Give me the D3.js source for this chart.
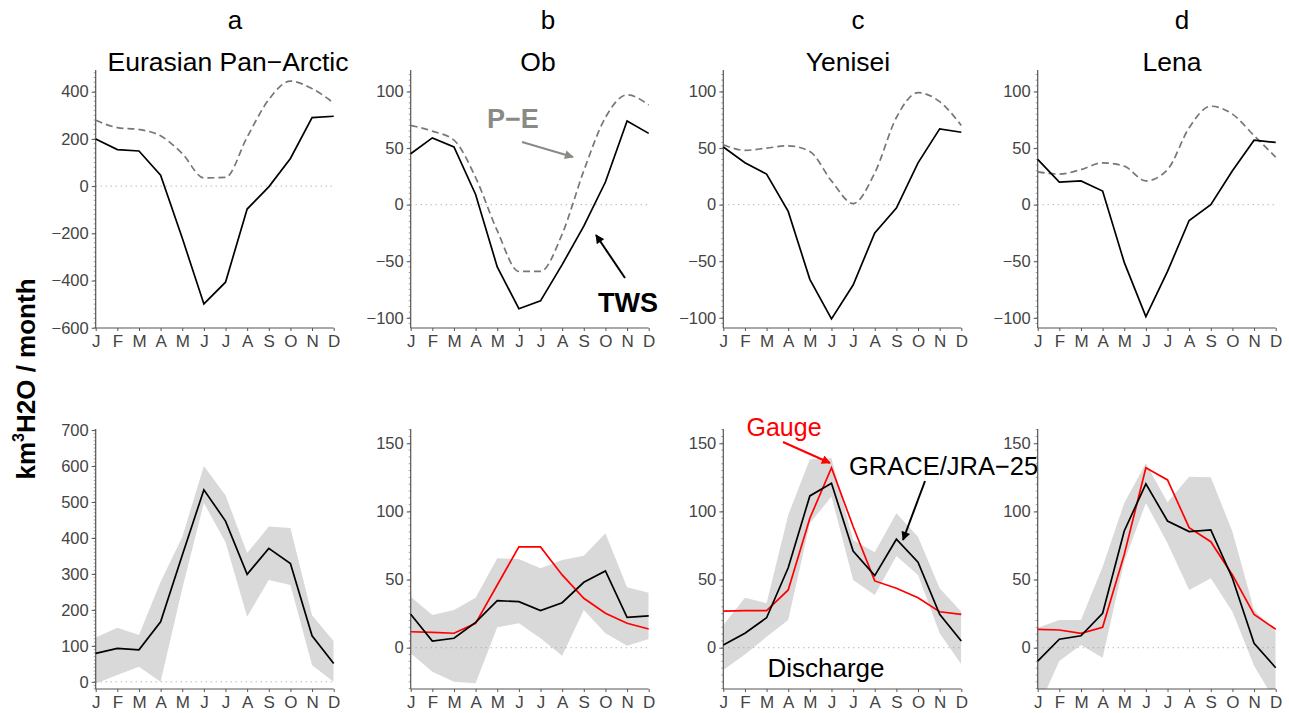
<!DOCTYPE html>
<html>
<head>
<meta charset="utf-8">
<script src="https://cdn.jsdelivr.net/npm/d3@7"></script>
<style>
  body { margin: 0; background: #fff; }
  svg { font-family: "Liberation Sans", Arial, Helvetica, sans-serif; }
</style>
</head>
<body>
<div id="chart"></div>
<script>
// Meses
const months = ['J', 'F', 'M', 'A', 'M', 'J', 'J', 'A', 'S', 'O', 'N', 'D'];
const panelLetters = ['a', 'b', 'c', 'd'];
const basinNames = ['Eurasian Pan\u2212Arctic', 'Ob', 'Yenisei', 'Lena'];

// Linha superior: TWS (preto) e P-E (tracejado)
const twsEur = [200, 155, 149, 46, -220, -499, -407, -97, -3, 117, 290, 296];
const peEur = [279, 248, 240, 213, 138, 35, 37, 208, 367, 445, 413, 352];
const twsOb = [45, 59, 51, 9, -55, -92, -85, -53, -19, 20, 74, 63];
const peOb = [70, 65, 57, 24, -23, -59, -59, -26, 30, 77, 97, 88];
const twsYen = [51, 37, 27, -6, -66, -101, -71, -25, -3, 37, 67, 64];
const peYen = [53, 48, 50, 52, 47, 21, 1, 28, 77, 99, 91, 70];
const twsLena = [40, 20, 21, 12, -51, -99, -59, -14, 0, 30, 57, 55];
const peLena = [29, 27, 31, 37, 34, 21, 31, 68, 87, 80, 61, 42];

// Linha inferior: descarga GRACE/JRA-25, faixa de incerteza e medição (Gauge)
const dischEur = [79, 93, 89, 167, 352, 534, 447, 299, 371, 329, 128, 51];
const bandHiEur = [123, 150, 130, 278, 403, 600, 519, 358, 432, 428, 185, 113];
const bandLoEur = [-5, 19, 42, 0, 259, 497, 388, 181, 283, 269, 46, 0];

const dischOb = [24.5, 4.9, 6.9, 18.6, 34.5, 33.8, 27.2, 33, 48, 56.3, 22.3, 23.3];
const gaugeOb = [11.7, 11.3, 10.6, 17.9, 46, 74, 74, 53.4, 36.3, 25.3, 17.9, 13.7];
const bandHiOb = [37.4, 24, 27.7, 36.7, 65.6, 65.1, 58.3, 64.4, 67.5, 84, 44.3, 40.4];
const bandLoOb = [-4.1, -17.6, -25, -26.1, 15, 17.9, 6.9, -5.9, 27.7, 10.6, 1.5, 6.4];

const dischYen = [2, 10.6, 22, 58.7, 111.4, 120.7, 71, 52.9, 79.6, 62.7, 24.5, 4.9];
const gaugeYen = [26.9, 27.2, 27.2, 42.4, 95, 132.1, 88.9, 49, 43.6, 36.7, 26.4, 24.5];
const bandHiYen = [16.7, 36.7, 32.6, 97.4, 138.3, 139, 79, 70, 98.7, 81.5, 43.6, 26.4];
const bandLoYen = [-16.4, -4.9, 8, 20.3, 91.3, 110.9, 49.7, 38.7, 67.3, 53.4, 10.6, -12.2];

const dischLena = [-9.8, 6.2, 8.8, 25.3, 85.7, 120.2, 93, 85.2, 86.4, 51, 3.2, -14.7];
const gaugeLena = [13.5, 13, 10.6, 15, 68.4, 132.1, 123.1, 88.1, 77.8, 53.4, 24.5, 13.5];
const bandHiLena = [14.7, 20.3, 20.3, 59.5, 106.2, 135.4, 106.7, 125.5, 125.1, 85.2, 27.7, 11.7];
const bandLoLena = [-45, -9.8, 2, -7.3, 63.2, 106.2, 76.7, 42.4, 51, 26.4, -13.2, -40];

// Ticks dos eixos
const topTicksEur = [-600, -400, -200, 0, 200, 400];
const topTicksBasin = [-100, -50, 0, 50, 100];
const botTicksEur = [0, 100, 200, 300, 400, 500, 600, 700];
const botTicksBasin = [0, 50, 100, 150];

const topPanels = [
  { tws: twsEur, pe: peEur, domain: [-601, 492], ticks: topTicksEur, minor: 20 },
  { tws: twsOb, pe: peOb, domain: [-109, 119], ticks: topTicksBasin, minor: 5 },
  { tws: twsYen, pe: peYen, domain: [-109, 119], ticks: topTicksBasin, minor: 5 },
  { tws: twsLena, pe: peLena, domain: [-109, 119], ticks: topTicksBasin, minor: 5 }
];
const bottomPanels = [
  { disch: dischEur, hi: bandHiEur, lo: bandLoEur, gauge: null, domain: [-20, 703], ticks: botTicksEur, minor: 10 },
  { disch: dischOb, hi: bandHiOb, lo: bandLoOb, gauge: gaugeOb, domain: [-30.3, 160.5], ticks: botTicksBasin, minor: 5 },
  { disch: dischYen, hi: bandHiYen, lo: bandLoYen, gauge: gaugeYen, domain: [-30.3, 160.5], ticks: botTicksBasin, minor: 5 },
  { disch: dischLena, hi: bandHiLena, lo: bandLoLena, gauge: gaugeLena, domain: [-30.3, 160.5], ticks: botTicksBasin, minor: 5 }
];

const W = 1289, H = 713;
const lefts = [95.7, 410.7, 723.3, 1037.7];
const plotW = 238;
const topRow = [70, 328];
const botRow = [429, 689];
const titleX = [228, 538, 848, 1172];
const axisColor = '#555';
const labelColor = '#444';

const svg = d3.select('#chart').append('svg')
  .attr('width', W)
  .attr('height', H);

const defs = svg.append('defs');
function addArrow(id, color) {
  defs.append('marker')
    .attr('id', id)
    .attr('viewBox', '0 0 10 10')
    .attr('refX', 9)
    .attr('refY', 5)
    .attr('markerWidth', 10)
    .attr('markerHeight', 9)
    .attr('markerUnits', 'userSpaceOnUse')
    .attr('orient', 'auto')
    .append('path')
    .attr('d', 'M0,0 L10,5 L0,10 z')
    .attr('fill', color);
}
addArrow('arrow-gray', '#8a8a84');
addArrow('arrow-black', '#000');
addArrow('arrow-red', '#ff0000');

// Desenhar eixos de um painel
function drawAxes(g, x, y, cfg, rowRange) {
  // eixo Y com ticks menores
  const minorTicks = d3.range(Math.ceil(cfg.domain[0] / cfg.minor) * cfg.minor, cfg.domain[1], cfg.minor);
  g.append('g')
    .selectAll('line')
    .data(minorTicks)
    .enter()
    .append('line')
    .attr('x1', x.range()[0] - 2)
    .attr('x2', x.range()[0])
    .attr('y1', d => y(d))
    .attr('y2', d => y(d))
    .attr('stroke', '#888')
    .attr('stroke-width', 0.8);

  const yAxis = g.append('g')
    .attr('transform', `translate(${x.range()[0]},0)`)
    .call(d3.axisLeft(y).tickValues(cfg.ticks).tickSize(4).tickPadding(3)
      .tickFormat(d => d < 0 ? '\u2212' + Math.abs(d) : d));
  yAxis.select('.domain').attr('stroke', axisColor).attr('stroke-width', 1.2)
    .attr('d', `M0,${rowRange[0]}V${rowRange[1]}`);
  yAxis.selectAll('.tick line').attr('stroke', axisColor);
  yAxis.selectAll('.tick text').attr('fill', labelColor).style('font-size', '16.5px');

  const xAxis = g.append('g')
    .attr('transform', `translate(0,${rowRange[1]})`)
    .call(d3.axisBottom(x).tickValues(d3.range(12)).tickSize(3).tickPadding(4)
      .tickFormat(i => months[i]));
  xAxis.select('.domain').attr('stroke', axisColor).attr('stroke-width', 1.2)
    .attr('d', `M${x.range()[0]},0H${x.range()[1]}`);
  xAxis.selectAll('.tick line').attr('stroke', axisColor);
  xAxis.selectAll('.tick text').attr('fill', labelColor).style('font-size', '17px');

  // linha de zero pontilhada
  g.append('line')
    .attr('x1', x(0))
    .attr('x2', x(11))
    .attr('y1', y(0))
    .attr('y2', y(0))
    .attr('stroke', '#999')
    .attr('stroke-width', 1)
    .attr('stroke-dasharray', '1,4');
}

// Linha superior
topPanels.forEach((p, i) => {
  const x = d3.scaleLinear().domain([0, 11]).range([lefts[i], lefts[i] + plotW]);
  const y = d3.scaleLinear().domain(p.domain).range([topRow[1], topRow[0]]);
  const g = svg.append('g');

  drawAxes(g, x, y, p, topRow);

  g.append('path')
    .datum(p.pe)
    .attr('d', d3.line().x((d, j) => x(j)).y(d => y(d)).curve(d3.curveMonotoneX))
    .attr('fill', 'none')
    .attr('stroke', '#777')
    .attr('stroke-width', 1.7)
    .attr('stroke-dasharray', '7,4');

  g.append('path')
    .datum(p.tws)
    .attr('d', d3.line().x((d, j) => x(j)).y(d => y(d)))
    .attr('fill', 'none')
    .attr('stroke', '#000')
    .attr('stroke-width', 1.7);

  svg.append('text')
    .attr('x', titleX[i])
    .attr('y', 71)
    .attr('text-anchor', 'middle')
    .style('font-size', '26.5px')
    .text(basinNames[i]);

  svg.append('text')
    .attr('x', titleX[i] + (i === 0 ? 7 : 10))
    .attr('y', 29)
    .attr('text-anchor', 'middle')
    .style('font-size', '26px')
    .text(panelLetters[i]);
});

// Linha inferior
bottomPanels.forEach((p, i) => {
  const x = d3.scaleLinear().domain([0, 11]).range([lefts[i], lefts[i] + plotW]);
  const y = d3.scaleLinear().domain(p.domain).range([botRow[1], botRow[0]]);
  const g = svg.append('g');

  const clipId = 'clip-bot-' + i;
  defs.append('clipPath')
    .attr('id', clipId)
    .append('rect')
    .attr('x', x.range()[0])
    .attr('y', botRow[0])
    .attr('width', plotW)
    .attr('height', botRow[1] - botRow[0]);

  const area = d3.area()
    .x((d, j) => x(j))
    .y0((d, j) => y(p.lo[j]))
    .y1(d => y(d));

  g.append('path')
    .datum(p.hi)
    .attr('d', area)
    .attr('fill', '#d9d9d9')
    .attr('clip-path', `url(#${clipId})`);

  drawAxes(g, x, y, p, botRow);

  const line = d3.line().x((d, j) => x(j)).y(d => y(d));

  if (p.gauge) {
    g.append('path')
      .datum(p.gauge)
      .attr('d', line)
      .attr('fill', 'none')
      .attr('stroke', '#ff0000')
      .attr('stroke-width', 1.7);
  }

  g.append('path')
    .datum(p.disch)
    .attr('d', line)
    .attr('fill', 'none')
    .attr('stroke', '#000')
    .attr('stroke-width', 1.7);
});

// Anotações
function arrow(x1, y1, x2, y2, color, marker) {
  svg.append('line')
    .attr('x1', x1).attr('y1', y1)
    .attr('x2', x2).attr('y2', y2)
    .attr('stroke', color)
    .attr('stroke-width', 2)
    .attr('marker-end', `url(#${marker})`);
}

svg.append('text')
  .attr('x', 513).attr('y', 128)
  .attr('text-anchor', 'middle')
  .style('font-size', '27px').style('font-weight', 'bold')
  .attr('fill', '#8a8a84')
  .text('P\u2212E');
arrow(522, 142, 573, 157, '#8a8a84', 'arrow-gray');

svg.append('text')
  .attr('x', 628).attr('y', 312)
  .attr('text-anchor', 'middle')
  .style('font-size', '27px').style('font-weight', 'bold')
  .text('TWS');
arrow(625, 278, 596, 235, '#000', 'arrow-black');

svg.append('text')
  .attr('x', 784).attr('y', 436)
  .attr('text-anchor', 'middle')
  .style('font-size', '25px')
  .attr('fill', '#ff0000')
  .text('Gauge');
arrow(783, 442, 830, 463, '#ff0000', 'arrow-red');

svg.append('text')
  .attr('x', 849).attr('y', 475)
  .style('font-size', '25.5px')
  .text('GRACE/JRA\u221225');
arrow(925, 481, 903, 540, '#000', 'arrow-black');

svg.append('text')
  .attr('x', 826).attr('y', 677)
  .attr('text-anchor', 'middle')
  .style('font-size', '26px')
  .text('Discharge');

// Rótulo do eixo Y
const ylab = svg.append('text')
  .attr('transform', 'translate(35,379) rotate(-90)')
  .attr('text-anchor', 'middle')
  .style('font-size', '26px')
  .style('font-weight', 'bold');
ylab.append('tspan').text('km');
ylab.append('tspan').attr('dy', -11).style('font-size', '16px').text('3');
ylab.append('tspan').attr('dy', 11).text('H2O / month');
</script>
</body>
</html>
